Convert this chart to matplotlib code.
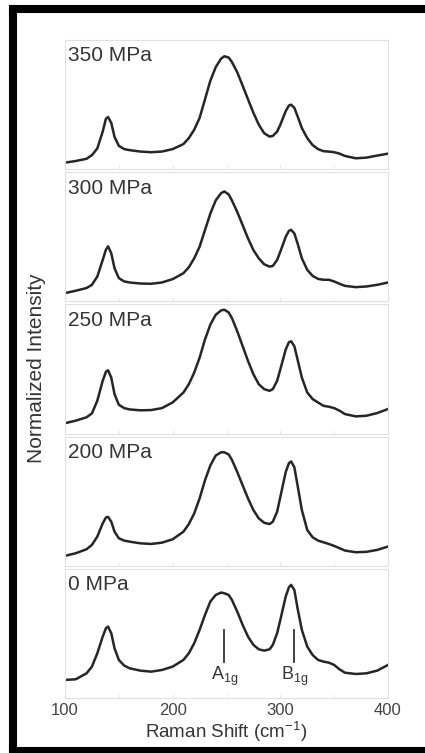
import matplotlib
matplotlib.use('Agg')
import matplotlib.pyplot as plt
from matplotlib.lines import Line2D

plt.rcParams['font.family'] = ['Liberation Sans', 'DejaVu Sans']
plt.rcParams['mathtext.fontset'] = 'custom'
plt.rcParams['mathtext.rm'] = 'Liberation Sans'

# Raman shift grid (cm-1)
shift = [100, 110, 120, 125, 130, 135, 138, 140, 143, 146, 150, 155, 160, 170, 180, 190,
         200, 210, 215, 220, 225, 230, 235, 240, 245, 248, 252, 255, 260, 265, 270, 275,
         280, 285, 290, 293, 297, 300, 305, 308, 310, 313, 316, 320, 325, 330, 335, 340,
         345, 350, 355, 360, 370, 380, 390, 400]

labels = ['350 MPa', '300 MPa', '250 MPa', '200 MPa', '0 MPa']

i_350 = [.05, .063, .08, .108, .16, .29, .39, .404, .357, .25,
         .18, .155, .147, .136, .131, .136, .155, .194, .24, .305,
         .396, .54, .685, .79, .856, .874, .864, .83, .75, .646,
         .54, .436, .344, .278, .252, .257, .29, .344, .449, .493,
         .499, .475, .41, .318, .24, .186, .155, .139, .136, .131,
         .12, .102, .084, .089, .105, .12]
i_300 = [.064, .082, .103, .128, .192, .32, .40, .426, .372, .256,
         .18, .154, .146, .138, .136, .146, .172, .218, .264, .333,
         .423, .551, .68, .782, .838, .851, .828, .782, .692, .59,
         .487, .397, .333, .287, .269, .274, .32, .385, .50, .546,
         .554, .526, .449, .333, .244, .197, .174, .167, .167, .154,
         .136, .12, .11, .115, .128, .146]
i_250 = [.08, .10, .126, .156, .254, .408, .479, .49, .433, .305,
         .223, .197, .187, .18, .182, .197, .241, .318, .382, .472,
         .587, .728, .844, .92, .954, .959, .938, .895, .792, .677,
         .562, .459, .382, .344, .331, .344, .408, .497, .651, .708,
         .715, .677, .574, .433, .318, .267, .241, .215, .208, .197,
         .177, .151, .133, .138, .159, .19]
i_200 = [.077, .097, .128, .162, .226, .328, .374, .379, .341, .264,
         .213, .195, .187, .174, .169, .179, .205, .264, .323, .405,
         .521, .662, .777, .854, .879, .879, .862, .821, .726, .623,
         .521, .431, .367, .333, .323, .341, .418, .533, .726, .795,
         .808, .764, .623, .431, .277, .221, .195, .182, .169, .154,
         .136, .118, .105, .108, .123, .149]
i_0 = [.14, .145, .191, .243, .346, .475, .54, .553, .501, .385,
       .295, .251, .23, .212, .204, .217, .243, .295, .346, .424,
       .527, .643, .747, .798, .817, .811, .798, .76, .669, .566,
       .475, .411, .377, .367, .377, .411, .501, .605, .786, .858,
       .876, .837, .695, .527, .398, .333, .295, .282, .274, .256,
       .222, .196, .186, .191, .212, .256]

series = [i_350, i_300, i_250, i_200, i_0]

# mode markers on the 0 MPa spectrum
modes = [r'A$_\mathrm{1g}$', r'B$_\mathrm{1g}$']
mode_pos = [248, 313]

txt = '#353535'
fig, axes = plt.subplots(5, 1, figsize=(4.25, 7.53), dpi=100, sharex=True)
fig.subplots_adjust(left=65/425, right=388/425, top=1-40/753, bottom=1-698/753, hspace=0.024)

for ax, lab, y in zip(axes, labels, series):
    ax.plot(shift, y, color='#262626', lw=1.8)
    ax.set_xlim(100, 400)
    ax.set_ylim(0, 1)
    ax.set_yticks([])
    for s in ax.spines.values():
        s.set_color('#e0e0e0')
        s.set_linewidth(0.8)
    ax.set_xticks([100, 200, 300, 400])
    ax.set_xticks([150, 250, 350], minor=True)
    ax.tick_params(axis='x', which='both', direction='in', length=3, color='#e6e6e6',
                   labelsize=12, labelcolor='#444444')
    ax.text(0.01, 0.95, lab, transform=ax.transAxes, ha='left', va='top',
            fontsize=15, color=txt)

bot = axes[-1]
for name, xp in zip(modes, mode_pos):
    bot.plot([xp, xp], [0.28, 0.53], color='#333333', lw=1.3)
    bot.text(xp, 0.17, name, ha='center', va='center', fontsize=13, color=txt)

bot.set_xlabel(r'Raman Shift (cm$^\mathrm{-1}$)', fontsize=13.5, color=txt, labelpad=1)
fig.text(37/425, 1-368/753, 'Normalized Intensity', rotation=90, ha='center', va='center',
         fontsize=15, color=txt)

# thick black frame: left, top and bottom edges (right edge is cut off in the picture)
x0, x1 = 13/425, 1.0
y_top, y_bot = 1-9/753, 1-751/753
for xs, ys in [([x0, x0], [y_bot, y_top]), ([x0, x1], [y_top, y_top]), ([x0, x1], [y_bot, y_bot])]:
    fig.add_artist(Line2D(xs, ys, transform=fig.transFigure, color='black', lw=5.8,
                          solid_capstyle='projecting'))

fig.savefig('out.png', dpi=100)
